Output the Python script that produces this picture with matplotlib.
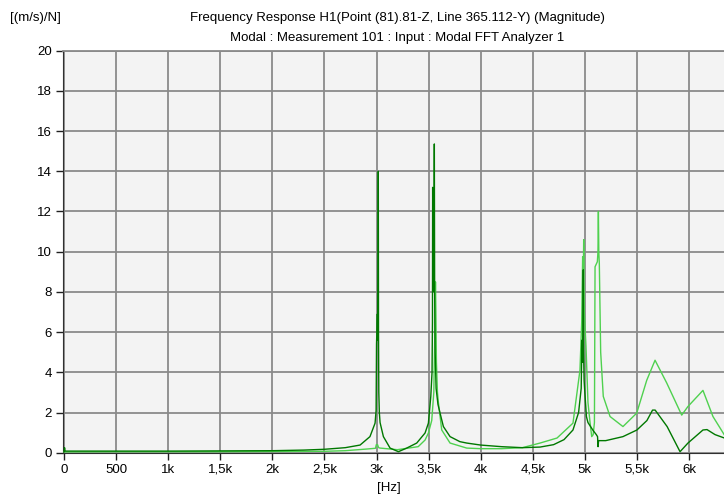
import matplotlib.pyplot as plt

# Frequency axis ticks
tick_hz = [0, 500, 1000, 1500, 2000, 2500, 3000, 3500, 4000, 4500, 5000, 5500, 6000]
tick_labels = ["0", "500", "1k", "1,5k", "2k", "2,5k", "3k", "3,5k", "4k", "4,5k", "5k", "5,5k", "6k"]

# Dark green trace (Hz, magnitude)
freq_dark = [0, 5, 10, 200, 500, 1000, 1500, 2000, 2300, 2500, 2700, 2842, 2937, 2986,
             2996, 3000, 3008, 3012, 3015, 3017, 3019, 3022, 3027, 3034, 3066, 3130,
             3210, 3290, 3386, 3466, 3498, 3521, 3533, 3537, 3539, 3542, 3548, 3553,
             3555, 3558, 3563, 3572, 3590, 3610, 3642, 3706, 3800, 3866, 4000, 4200,
             4400, 4570, 4700, 4800, 4886, 4940, 4965, 4972, 4978, 4982, 4985, 4988,
             4993, 5000, 5015, 5030, 5080, 5110, 5122, 5127, 5132, 5200, 5366, 5500,
             5596, 5650, 5675, 5790, 5914, 5990, 6134, 6173, 6250, 6340]
mag_dark = [0.05, 0.25, 0.08, 0.08, 0.08, 0.08, 0.09, 0.1, 0.13, 0.17, 0.25, 0.38, 0.8, 1.47,
            2.1, 5.4, 6.9, 5.6, 9.0, 14.0, 6.0, 3.0, 2.0, 1.5, 0.8, 0.23,
            0.05, 0.23, 0.48, 0.98, 1.47, 2.8, 4.0, 6.5, 13.2, 8.0, 10.0, 12.0,
            15.36, 8.0, 5.0, 3.2, 2.4, 1.97, 1.3, 0.8, 0.55, 0.48, 0.38, 0.3,
            0.25, 0.28, 0.4, 0.65, 1.13, 2.0, 3.2, 5.6, 4.5, 6.0, 9.1, 5.0,
            3.6, 3.0, 1.8, 1.5, 1.1, 0.9, 0.8, 0.3, 0.6, 0.6, 0.8, 1.13,
            1.6, 2.12, 2.12, 1.3, 0.05, 0.48, 1.13, 1.15, 0.9, 0.73]

# Light green trace (Hz, magnitude)
freq_light = [0, 500, 1000, 1500, 2000, 2500, 2700, 2900, 2990, 2998, 3010, 3020, 3034,
              3200, 3400, 3466, 3498, 3530, 3550, 3560, 3566, 3570, 3575, 3585, 3594,
              3626, 3706, 3866, 4000, 4200, 4400, 4570, 4733, 4886, 4953, 4970, 4979,
              4984, 4989, 4995, 5011, 5030, 5050, 5066, 5080, 5092, 5098, 5120, 5126,
              5130, 5134, 5139, 5152, 5177, 5242, 5366, 5498, 5594, 5674, 5786, 5930,
              5990, 6134, 6230, 6340]
mag_light = [0.04, 0.05, 0.05, 0.05, 0.06, 0.07, 0.1, 0.18, 0.22, 0.4, 0.4, 0.25, 0.23,
             0.15, 0.3, 0.63, 0.98, 1.6, 3.0, 6.0, 8.5, 7.0, 4.5, 3.0, 2.5,
             1.13, 0.48, 0.23, 0.2, 0.2, 0.25, 0.48, 0.73, 1.47, 4.1, 6.5, 9.75,
             8.0, 10.6, 7.0, 5.3, 2.5, 1.5, 0.8, 0.9, 1.5, 9.25, 9.5, 10.0,
             12.0, 10.0, 9.4, 5.0, 2.8, 1.8, 1.3, 1.97, 3.6, 4.6, 3.47, 1.87,
             2.3, 3.1, 1.8, 0.88]

plt.rcParams['font.family'] = ['Liberation Sans Narrow', 'Liberation Sans', 'DejaVu Sans']

fig = plt.figure(figsize=(7.24, 4.97), dpi=100)
ax = fig.add_axes([63 / 724, 1 - 452.7 / 497, 661 / 724, 402 / 497])
ax.set_facecolor('#f3f3f3')

ax.plot(freq_light, mag_light, color='#4fd14f', lw=1.0, zorder=3)
ax.plot(freq_dark, mag_dark, color='#007800', lw=1.0, zorder=4)

ax.set_xlim(-10, 6336)
ax.set_ylim(0, 20)
ax.set_xticks(tick_hz)
ax.set_xticklabels(tick_labels)
ax.set_yticks(range(0, 21, 2))
ax.grid(True, color='#8a8a8a', lw=1.3, zorder=1)
ax.set_axisbelow(True)
ax.tick_params(direction='out', length=5, width=1, labelsize=9.5, color='#202020', pad=3)

for side in ['right']:
    ax.spines[side].set_visible(False)
ax.spines['top'].set_color('#8a8a8a')
ax.spines['top'].set_linewidth(1.3)
ax.spines['left'].set_color('#303030')
ax.spines['bottom'].set_color('#303030')

fig.text(397 / 724, 1 - 18 / 497, "Frequency Response H1(Point (81).81-Z, Line 365.112-Y) (Magnitude)",
         ha='center', va='center', fontsize=9.5)
fig.text(397 / 724, 1 - 38 / 497, "Modal : Measurement 101 : Input : Modal FFT Analyzer 1",
         ha='center', va='center', fontsize=9.5)
fig.text(10 / 724, 1 - 18 / 497, "[(m/s)/N]", ha='left', va='center', fontsize=9.5)
fig.text(389 / 724, 1 - 488 / 497, "[Hz]", ha='center', va='center', fontsize=9.5)

fig.savefig('out.png', dpi=100)
